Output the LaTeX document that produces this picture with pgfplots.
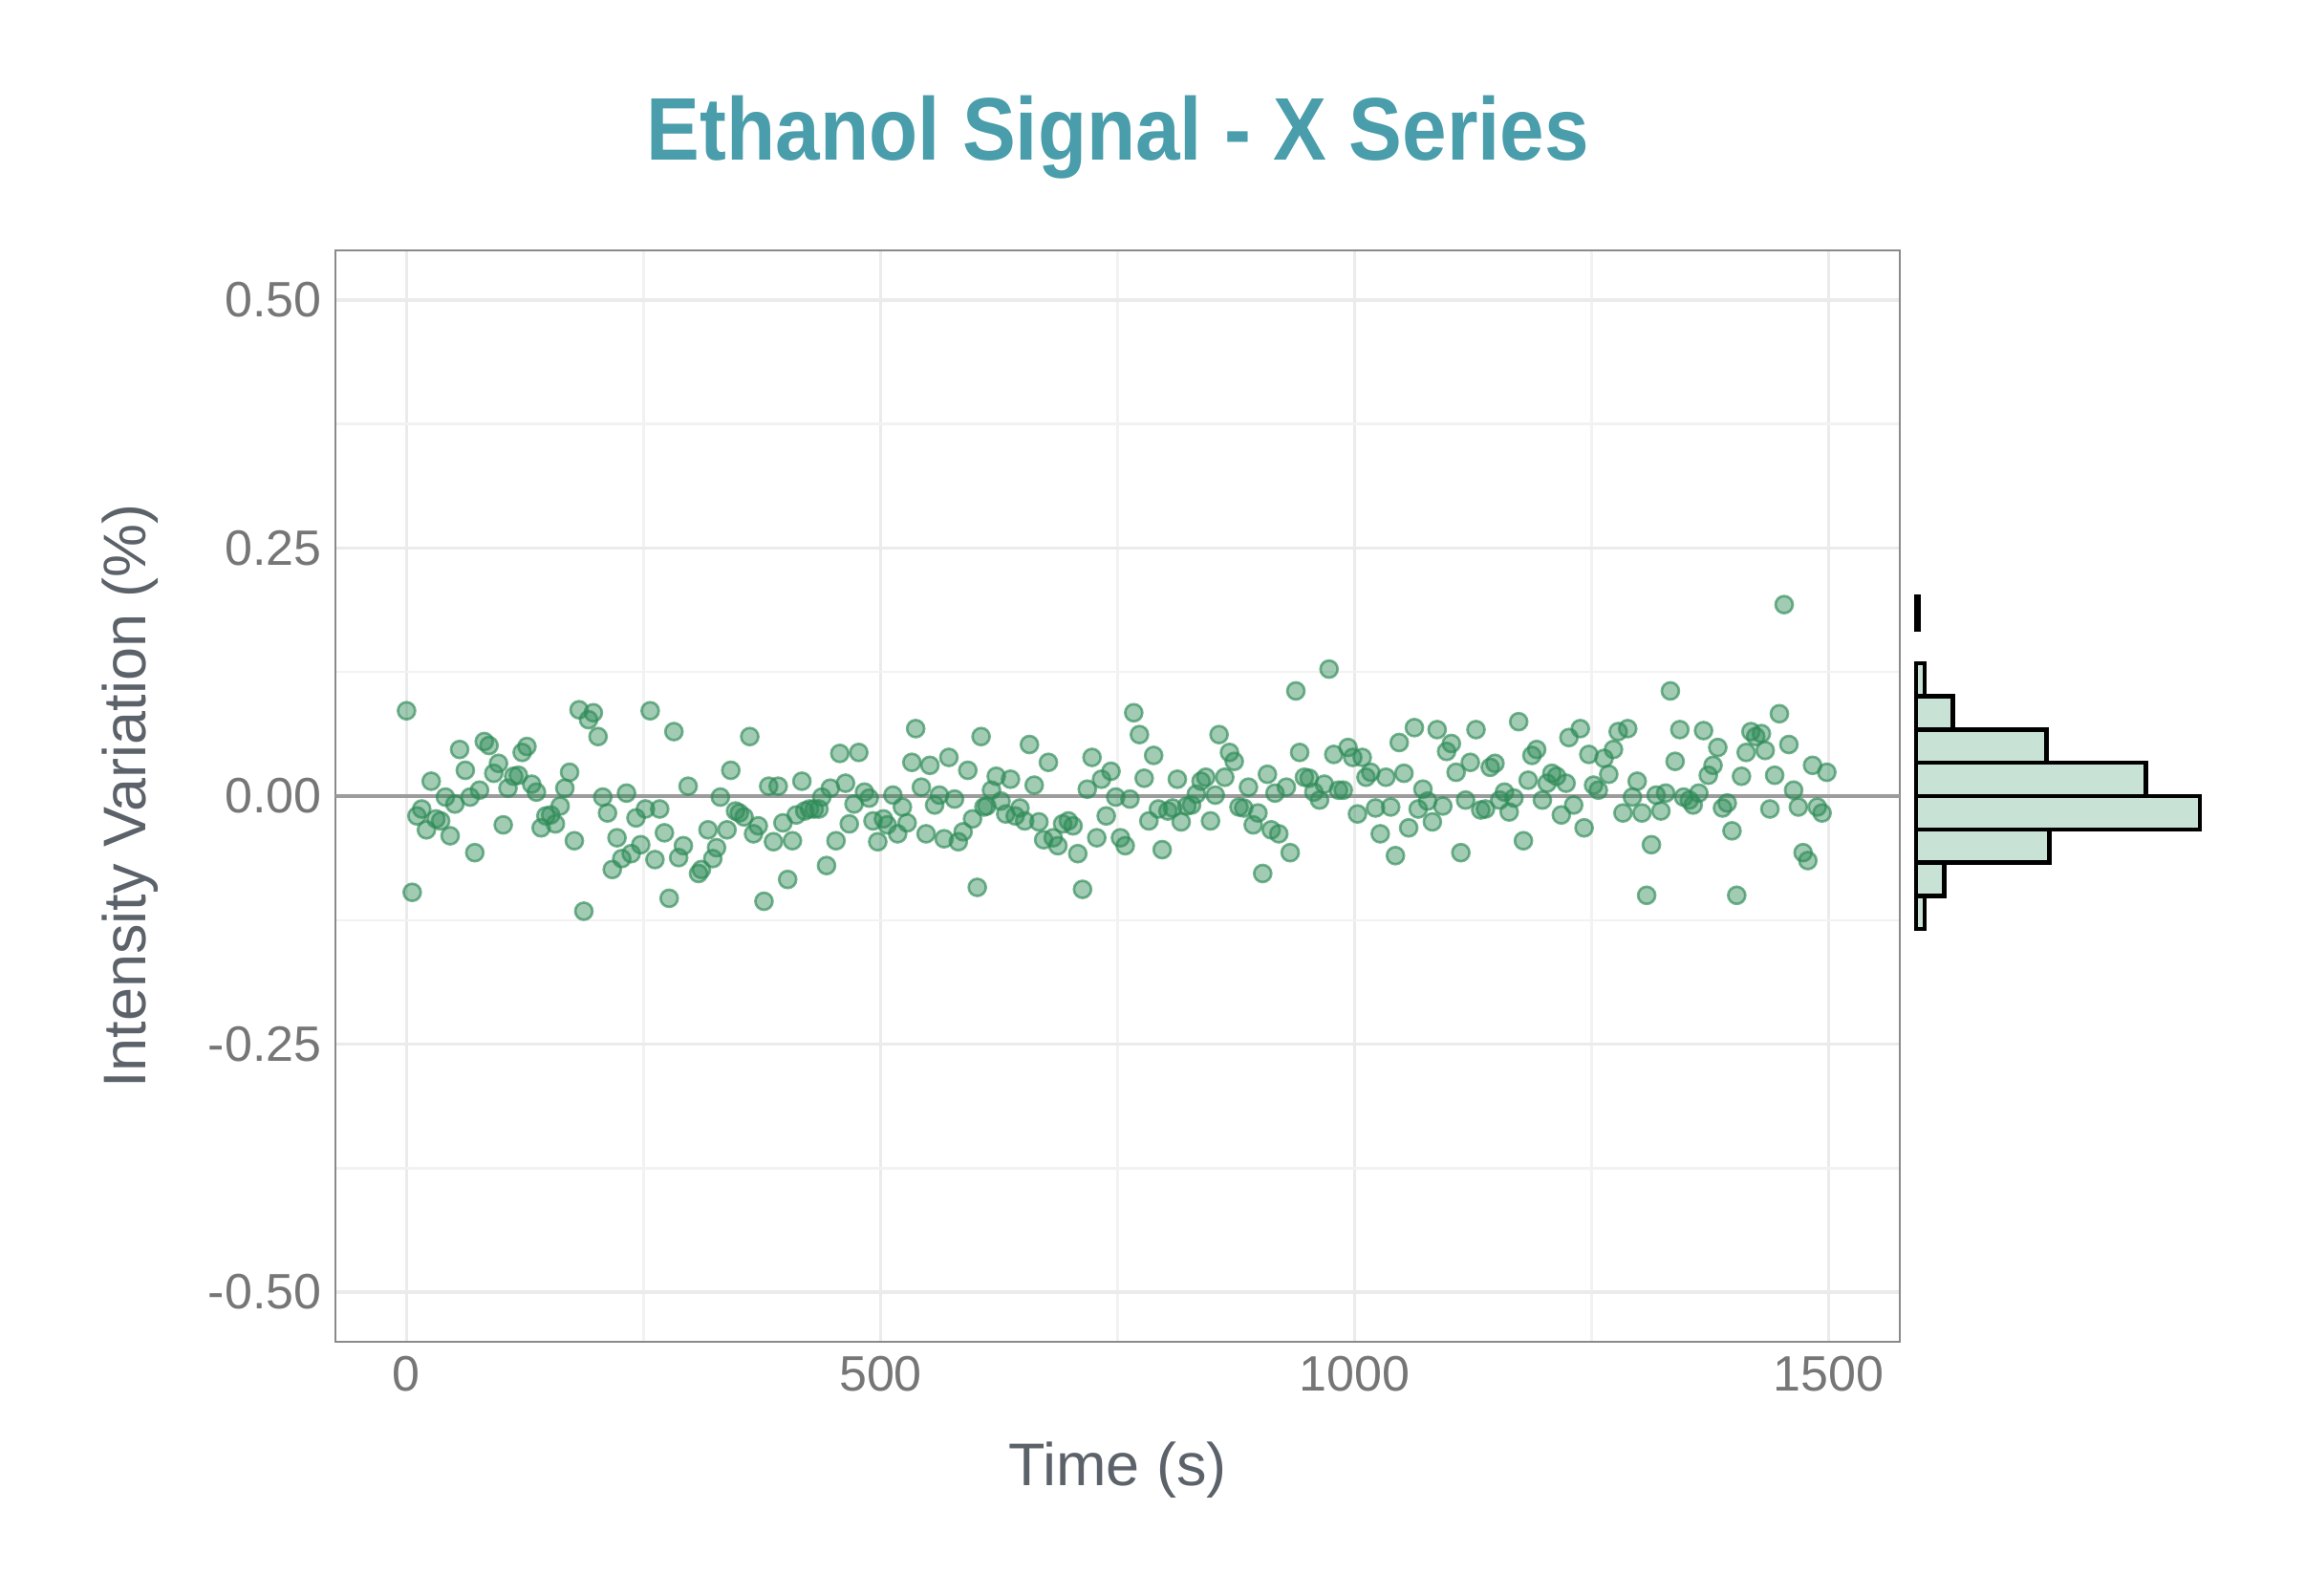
\documentclass[border=0pt]{standalone}
\usepackage{pgfplots}
\pgfplotsset{compat=1.18}
\usepackage{fontspec}
\setmainfont{Liberation Sans}
\newfontfamily\titlefont[FakeStretch=0.9]{Liberation Sans}
\definecolor{ttl}{HTML}{4A9DAB}
\definecolor{ptcol}{HTML}{2E8B57}
\definecolor{gridcol}{HTML}{EBEBEB}
\definecolor{gridminor}{HTML}{F2F2F2}
\definecolor{framecol}{HTML}{8A8A8A}
\definecolor{zerocol}{HTML}{9C9C9C}
\definecolor{tickcol}{HTML}{767676}
\definecolor{labcol}{HTML}{5C6269}
\definecolor{histfill}{HTML}{C8E3D5}

\pgfplotstableread{
t v
0 0.086
6 -0.097
11 -0.020
16 -0.013
21 -0.034
26 0.015
31 -0.023
36 -0.025
41 -0.001
46 -0.040
51 -0.008
56 0.047
62 0.026
67 -0.001
72 -0.057
77 0.006
82 0.055
87 0.051
92 0.023
97 0.033
102 -0.029
107 0.008
113 0.020
118 0.021
122 0.044
127 0.050
132 0.012
137 0.004
142 -0.032
147 -0.020
152 -0.019
157 -0.028
162 -0.010
167 0.008
172 0.024
177 -0.045
182 0.087
187 -0.116
192 0.077
197 0.084
202 0.060
207 -0.001
212 -0.017
217 -0.074
222 -0.042
227 -0.063
232 0.003
237 -0.058
242 -0.022
247 -0.049
252 -0.013
257 0.086
262 -0.064
267 -0.013
272 -0.037
277 -0.103
282 0.065
287 -0.062
292 -0.050
297 0.010
308 -0.078
311 -0.074
318 -0.034
323 -0.063
327 -0.052
331 -0.001
338 -0.034
342 0.026
347 -0.015
351 -0.017
356 -0.021
362 0.060
366 -0.038
371 -0.030
377 -0.106
382 0.010
387 -0.046
392 0.010
397 -0.027
402 -0.084
407 -0.045
411 -0.019
417 0.015
420 -0.015
425 -0.013
430 -0.013
435 -0.013
438 -0.001
443 -0.070
447 0.008
453 -0.045
457 0.043
463 0.013
467 -0.028
472 -0.008
477 0.044
483 0.004
488 -0.002
492 -0.025
497 -0.046
503 -0.023
507 -0.029
513 0.001
518 -0.038
523 -0.011
528 -0.027
533 0.034
537 0.068
543 0.009
548 -0.038
552 0.031
557 -0.009
562 0.001
567 -0.043
572 0.039
578 -0.003
582 -0.046
587 -0.036
592 0.026
597 -0.023
602 -0.092
606 0.060
609 -0.011
612 -0.010
617 0.006
622 0.020
627 -0.005
632 -0.018
637 0.017
642 -0.020
647 -0.012
652 -0.025
657 0.052
662 0.011
667 -0.026
672 -0.044
677 0.034
682 -0.042
687 -0.050
692 -0.028
698 -0.025
703 -0.030
708 -0.058
713 -0.094
718 0.007
723 0.039
728 -0.042
733 0.017
738 -0.020
743 0.025
748 -0.001
753 -0.042
758 -0.050
763 -0.003
767 0.084
773 0.062
778 0.018
783 -0.025
788 0.041
793 -0.013
797 -0.054
803 -0.015
808 -0.012
813 0.017
817 -0.026
823 -0.010
828 -0.009
833 0.002
838 0.015
843 0.019
848 -0.025
853 0.001
857 0.062
863 0.019
868 0.044
873 0.035
878 -0.011
883 -0.012
888 0.009
893 -0.029
898 -0.017
903 -0.078
908 0.022
912 -0.034
916 0.003
920 -0.038
928 0.009
932 -0.057
938 0.106
942 0.044
947 0.019
952 0.018
957 0.004
963 -0.004
968 0.012
973 0.128
978 0.042
983 0.006
988 0.006
993 0.049
998 0.039
1003 -0.018
1008 0.039
1012 0.019
1017 0.024
1022 -0.012
1027 -0.038
1033 0.019
1038 -0.011
1043 -0.060
1047 0.054
1052 0.023
1057 -0.032
1063 0.069
1067 -0.013
1072 0.007
1077 -0.005
1082 -0.026
1087 0.067
1093 -0.010
1097 0.045
1102 0.053
1107 0.024
1112 -0.057
1117 -0.004
1122 0.034
1128 0.067
1133 -0.014
1138 -0.013
1143 0.029
1148 0.033
1153 -0.004
1158 0.004
1163 -0.016
1168 -0.002
1173 0.075
1178 -0.045
1183 0.016
1187 0.041
1192 0.047
1198 -0.004
1203 0.013
1208 0.023
1213 0.020
1218 -0.019
1223 0.013
1226 0.059
1231 -0.009
1238 0.068
1242 -0.032
1247 0.042
1252 0.011
1257 0.006
1263 0.038
1268 0.022
1273 0.047
1278 0.065
1283 -0.017
1288 0.068
1293 -0.001
1298 0.015
1303 -0.017
1308 -0.100
1313 -0.049
1318 0.001
1323 -0.015
1328 0.003
1333 0.106
1338 0.035
1343 0.067
1347 -0.001
1353 -0.004
1357 -0.009
1363 0.003
1368 0.066
1373 0.021
1378 0.031
1383 0.049
1388 -0.012
1393 -0.007
1398 -0.035
1403 -0.100
1408 0.020
1413 0.044
1418 0.065
1423 0.060
1429 0.063
1433 0.046
1438 -0.013
1443 0.021
1448 0.083
1453 0.193
1458 0.052
1463 0.006
1468 -0.011
1473 -0.057
1478 -0.065
1483 0.031
1488 -0.011
1493 -0.017
1498 0.024
}\scatterdata

\begin{document}
\begin{tikzpicture}[x=1pt,y=1pt]
\useasboundingbox (0,0) rectangle (723.6,501);
\begin{axis}[
  at={(105.3pt,79.8pt)}, anchor=south west,
  scale only axis, width=491.1pt, height=342.6pt,
  xmin=-75, xmax=1575, ymin=-0.55, ymax=0.55,
  axis line style={draw=framecol, line width=0.6pt},
  xtick={0,500,1000,1500}, xticklabels={0,500,1000,1500},
  minor xtick={250,750,1250},
  ytick={-0.5,-0.25,0,0.25,0.5},
  yticklabels={-0.50,-0.25,0.00,0.25,0.50},
  minor ytick={-0.375,-0.125,0.125,0.375},
  grid=both,
  major grid style={draw=gridcol, line width=1.1pt},
  minor grid style={draw=gridminor, line width=0.75pt},
  major tick length=0pt, minor tick length=0pt,
  ticklabel style={font=\fontsize{15.6}{18}\selectfont, text=tickcol},
  xticklabel style={anchor=north, inner sep=0pt, yshift=-4.5pt},
  yticklabel style={anchor=east, inner sep=0pt, xshift=-4.2pt},
  xlabel={Time (s)},
  ylabel={Intensity Variation (\%)},
  xlabel style={at={(axis description cs:0.5,-0.1322)}, anchor=base, inner sep=0pt,
    font=\fontsize{18.9}{22}\selectfont, text=labcol},
  ylabel style={at={(axis description cs:-0.12095,0.5)}, anchor=base, inner sep=0pt,
    font=\fontsize{18.9}{22}\selectfont, text=labcol},
]
\addplot[draw=zerocol, line width=1pt, forget plot] coordinates {(-75,0) (1575,0)};
\addplot[only marks, mark=*, mark size=2.7pt,
  mark options={fill=ptcol, fill opacity=0.45, draw=ptcol, draw opacity=0.65, line width=0.8pt}]
  table[x=t, y=v] {\scatterdata};
\end{axis}

\begin{axis}[
  at={(601.5pt,79.8pt)}, anchor=south west,
  scale only axis, width=100.5pt, height=342.6pt,
  xmin=0, xmax=112.8, ymin=-0.55, ymax=0.55,
  hide axis, clip=false,
]
\addplot[xbar interval, fill=histfill, draw=black, line width=1.35pt]
  coordinates {(3,-0.134) (10,-0.1005) (47,-0.067) (100,-0.0335) (81,0) (46,0.0335) (13,0.067) (3,0.1005) (3,0.134)};
\addplot[xbar interval, fill=histfill, draw=black, line width=1.35pt]
  coordinates {(1,0.1675) (1,0.201)};
\end{axis}

\node[anchor=base, text=ttl, font=\titlefont\bfseries\fontsize{27.9}{30}\selectfont] at (351,450.6) {Ethanol Signal - X Series};
\end{tikzpicture}
\end{document}
